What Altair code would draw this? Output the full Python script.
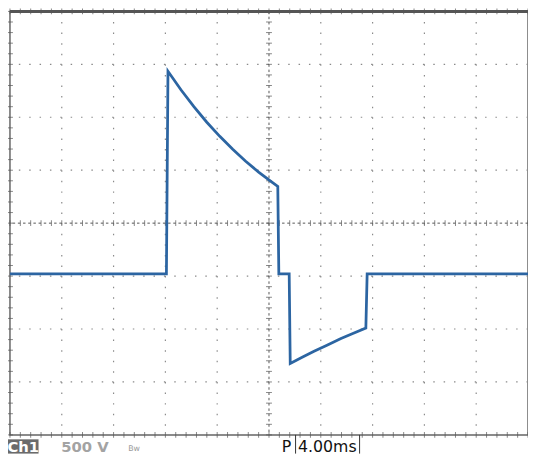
import altair as alt
import pandas as pd
import numpy as np

# Trace (time in ms, 4 ms/div; voltage in V, 500 V/div)
time_ms = [0, 12.08, 12.2, 13.2, 14.2, 15.2, 16.2, 17.2, 18.2, 19.2, 20.2, 20.68, 20.76,
           21.56, 21.64, 22.6, 23.48, 24.52, 25.56, 26.52, 27.48, 27.58, 40]
volts = [-480, -480, 1435, 1260, 1100, 953, 820, 698, 585, 482, 390, 347, -480,
         -480, -1325, -1265, -1210, -1150, -1090, -1040, -990, -480, -480]

x_major = [4, 8, 12, 16, 24, 28, 32, 36]
y_major = [-1500, -1000, -500, 500, 1000, 1500]
x_center = [20]
y_center = [0]

W, H = 526, 430
XD = [0, 40]
YD = [-2000, 2000]
xs = alt.Scale(domain=XD, nice=False, zero=False)
ys = alt.Scale(domain=YD, nice=False, zero=False)

trace = pd.DataFrame({"t": time_ms, "v": volts, "i": range(len(time_ms))})

grid_col = "#8a8a8a"
gx = alt.Chart(pd.DataFrame({"x": x_major})).mark_rule(
    color=grid_col, strokeWidth=1.2, strokeDash=[1.5, 9.25]
).encode(x=alt.X("x:Q", scale=xs, axis=None))
gy = alt.Chart(pd.DataFrame({"y": y_major})).mark_rule(
    color=grid_col, strokeWidth=1.2, strokeDash=[1.5, 9.02]
).encode(y=alt.Y("y:Q", scale=ys, axis=None))

cx = alt.Chart(pd.DataFrame({"x": x_center})).mark_rule(
    color="#555", strokeWidth=1, strokeDash=[2.5, 2.875]
).encode(x=alt.X("x:Q", scale=xs, axis=None))
cy = alt.Chart(pd.DataFrame({"y": y_center})).mark_rule(
    color="#555", strokeWidth=1, strokeDash=[2.5, 2.76]
).encode(y=alt.Y("y:Q", scale=ys, axis=None))

# minor division ticks (1/5 div) on centre lines and borders
mx = np.round(np.arange(0, 40.001, 0.8), 3)
my = np.round(np.arange(-2000, 2000.1, 100), 3)
tick_x = pd.DataFrame({"x": np.concatenate([mx, mx, mx]),
                       "y": [0] * len(mx) + [-2000] * len(mx) + [2000] * len(mx)})
tick_y = pd.DataFrame({"y": np.concatenate([my, my]),
                       "x": [20] * len(my) + [0] * len(my)})
tx = alt.Chart(tick_x).mark_tick(orient="vertical", color="#555", size=6, thickness=1).encode(
    x=alt.X("x:Q", scale=xs, axis=None), y=alt.Y("y:Q", scale=ys, axis=None))
ty = alt.Chart(tick_y).mark_tick(orient="horizontal", color="#555", size=6, thickness=1).encode(
    x=alt.X("x:Q", scale=xs, axis=None), y=alt.Y("y:Q", scale=ys, axis=None))

line = alt.Chart(trace).mark_line(color="#2c65a2", strokeWidth=2.8, strokeJoin="miter").encode(
    x=alt.X("t:Q", scale=xs, axis=None),
    y=alt.Y("v:Q", scale=ys, axis=None),
    order="i:Q",
)

# top border (thicker)
top = alt.Chart(pd.DataFrame({"y": [2000]})).mark_rule(color="#555", strokeWidth=3).encode(
    y=alt.Y("y:Q", scale=ys, axis=None))

# status bar
one = pd.DataFrame({"a": [0]})
ch_box = alt.Chart(one).mark_rect(color="#6b6b6b").encode(
    x=alt.value(-2), x2=alt.value(29), y=alt.value(434.5), y2=alt.value(449))
ch_txt = alt.Chart(one).mark_text(
    text="Ch1", color="white", font="DejaVu Sans", fontSize=15, fontWeight="bold",
    align="center", baseline="alphabetic").encode(x=alt.value(13.5), y=alt.value(447))
volt_txt = alt.Chart(one).mark_text(
    text="500 V", color="#a3a3a3", font="DejaVu Sans", fontSize=15, fontWeight="bold",
    align="left", baseline="alphabetic").encode(x=alt.value(52), y=alt.value(447))
bw_txt = alt.Chart(one).mark_text(
    text="Bw", color="#9a9a9a", font="DejaVu Sans", fontSize=8,
    align="left", baseline="alphabetic").encode(x=alt.value(120), y=alt.value(446))
p_txt = alt.Chart(one).mark_text(
    text="P", color="#111", font="DejaVu Sans", fontSize=16,
    align="left", baseline="alphabetic").encode(x=alt.value(276), y=alt.value(447))
tb_txt = alt.Chart(one).mark_text(
    text="4.00ms", color="#111", font="DejaVu Sans", fontSize=16,
    align="left", baseline="alphabetic").encode(x=alt.value(292.5), y=alt.value(447))
box_l = alt.Chart(one).mark_rule(color="#333", strokeWidth=1).encode(
    x=alt.value(290), y=alt.value(430), y2=alt.value(449))
box_r = alt.Chart(one).mark_rule(color="#333", strokeWidth=1).encode(
    x=alt.value(355), y=alt.value(430), y2=alt.value(449))

chart = alt.layer(
    gx, gy, cx, cy, tx, ty, top, line,
    ch_box, ch_txt, volt_txt, bw_txt, p_txt, tb_txt, box_l, box_r,
).properties(
    width=W, height=H,
    autosize=alt.AutoSizeParams(type="none"),
    padding={"left": 2, "top": 0, "right": 0, "bottom": 19},
    background="white",
).configure_view(stroke="#666", strokeWidth=1.5)

chart.save("out.html", embed_options={"renderer": "svg", "actions": False})
